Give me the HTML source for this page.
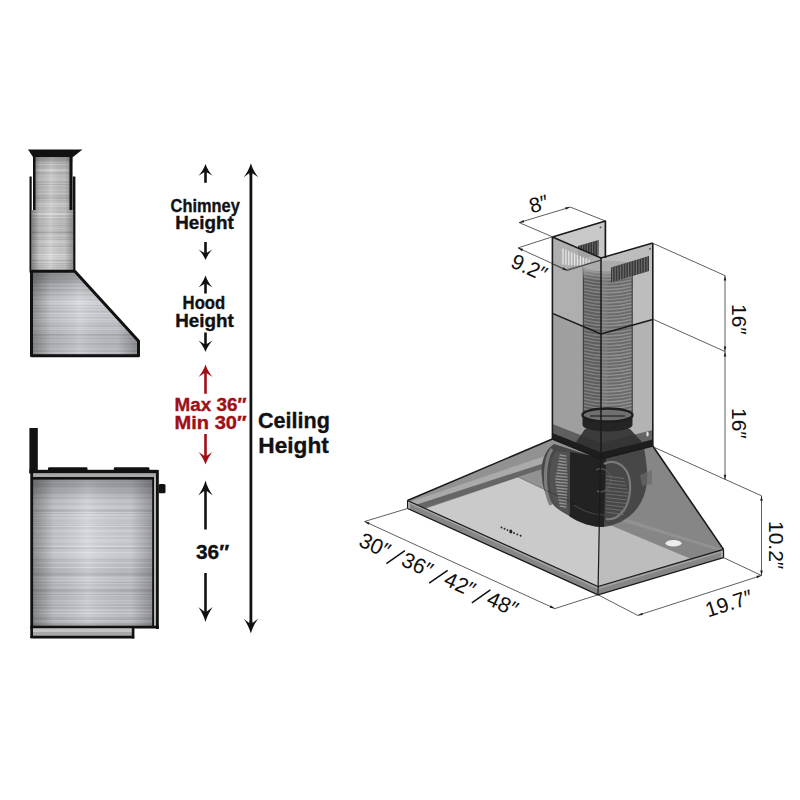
<!DOCTYPE html>
<html><head><meta charset="utf-8"><style>
html,body{margin:0;padding:0;background:#fff;}
svg{display:block;}
</style></head><body>
<svg width="800" height="800" viewBox="0 0 800 800">
<defs>
<linearGradient id="stA" x1="0" y1="0" x2="0" y2="1"><stop offset="0.00%" stop-color="rgb(200,200,200)"/>
<stop offset="0.91%" stop-color="rgb(197,197,197)"/>
<stop offset="1.82%" stop-color="rgb(191,191,191)"/>
<stop offset="2.73%" stop-color="rgb(195,195,195)"/>
<stop offset="3.64%" stop-color="rgb(192,192,192)"/>
<stop offset="4.55%" stop-color="rgb(195,195,195)"/>
<stop offset="5.45%" stop-color="rgb(218,218,218)"/>
<stop offset="6.36%" stop-color="rgb(198,198,198)"/>
<stop offset="7.27%" stop-color="rgb(220,220,220)"/>
<stop offset="8.18%" stop-color="rgb(202,202,202)"/>
<stop offset="9.09%" stop-color="rgb(189,189,189)"/>
<stop offset="10.00%" stop-color="rgb(196,196,196)"/>
<stop offset="10.91%" stop-color="rgb(190,190,190)"/>
<stop offset="11.82%" stop-color="rgb(212,212,212)"/>
<stop offset="12.73%" stop-color="rgb(203,203,203)"/>
<stop offset="13.64%" stop-color="rgb(196,196,196)"/>
<stop offset="14.55%" stop-color="rgb(170,170,170)"/>
<stop offset="15.45%" stop-color="rgb(188,188,188)"/>
<stop offset="16.36%" stop-color="rgb(195,195,195)"/>
<stop offset="17.27%" stop-color="rgb(199,199,199)"/>
<stop offset="18.18%" stop-color="rgb(189,189,189)"/>
<stop offset="19.09%" stop-color="rgb(201,201,201)"/>
<stop offset="20.00%" stop-color="rgb(196,196,196)"/>
<stop offset="20.91%" stop-color="rgb(205,205,205)"/>
<stop offset="21.82%" stop-color="rgb(186,186,186)"/>
<stop offset="22.73%" stop-color="rgb(180,180,180)"/>
<stop offset="23.64%" stop-color="rgb(200,200,200)"/>
<stop offset="24.55%" stop-color="rgb(176,176,176)"/>
<stop offset="25.45%" stop-color="rgb(196,196,196)"/>
<stop offset="26.36%" stop-color="rgb(193,193,193)"/>
<stop offset="27.27%" stop-color="rgb(184,184,184)"/>
<stop offset="28.18%" stop-color="rgb(193,193,193)"/>
<stop offset="29.09%" stop-color="rgb(188,188,188)"/>
<stop offset="30.00%" stop-color="rgb(204,204,204)"/>
<stop offset="30.91%" stop-color="rgb(180,180,180)"/>
<stop offset="31.82%" stop-color="rgb(196,196,196)"/>
<stop offset="32.73%" stop-color="rgb(206,206,206)"/>
<stop offset="33.64%" stop-color="rgb(183,183,183)"/>
<stop offset="34.55%" stop-color="rgb(181,181,181)"/>
<stop offset="35.45%" stop-color="rgb(190,190,190)"/>
<stop offset="36.36%" stop-color="rgb(164,164,164)"/>
<stop offset="37.27%" stop-color="rgb(201,201,201)"/>
<stop offset="38.18%" stop-color="rgb(185,185,185)"/>
<stop offset="39.09%" stop-color="rgb(191,191,191)"/>
<stop offset="40.00%" stop-color="rgb(193,193,193)"/>
<stop offset="40.91%" stop-color="rgb(207,207,207)"/>
<stop offset="41.82%" stop-color="rgb(208,208,208)"/>
<stop offset="42.73%" stop-color="rgb(194,194,194)"/>
<stop offset="43.64%" stop-color="rgb(210,210,210)"/>
<stop offset="44.55%" stop-color="rgb(187,187,187)"/>
<stop offset="45.45%" stop-color="rgb(191,191,191)"/>
<stop offset="46.36%" stop-color="rgb(200,200,200)"/>
<stop offset="47.27%" stop-color="rgb(178,178,178)"/>
<stop offset="48.18%" stop-color="rgb(199,199,199)"/>
<stop offset="49.09%" stop-color="rgb(205,205,205)"/>
<stop offset="50.00%" stop-color="rgb(210,210,210)"/>
<stop offset="50.91%" stop-color="rgb(208,208,208)"/>
<stop offset="51.82%" stop-color="rgb(191,191,191)"/>
<stop offset="52.73%" stop-color="rgb(215,215,215)"/>
<stop offset="53.64%" stop-color="rgb(217,217,217)"/>
<stop offset="54.55%" stop-color="rgb(190,190,190)"/>
<stop offset="55.45%" stop-color="rgb(198,198,198)"/>
<stop offset="56.36%" stop-color="rgb(195,195,195)"/>
<stop offset="57.27%" stop-color="rgb(199,199,199)"/>
<stop offset="58.18%" stop-color="rgb(181,181,181)"/>
<stop offset="59.09%" stop-color="rgb(185,185,185)"/>
<stop offset="60.00%" stop-color="rgb(192,192,192)"/>
<stop offset="60.91%" stop-color="rgb(224,224,224)"/>
<stop offset="61.82%" stop-color="rgb(200,200,200)"/>
<stop offset="62.73%" stop-color="rgb(207,207,207)"/>
<stop offset="63.64%" stop-color="rgb(200,200,200)"/>
<stop offset="64.55%" stop-color="rgb(228,228,228)"/>
<stop offset="65.45%" stop-color="rgb(197,197,197)"/>
<stop offset="66.36%" stop-color="rgb(199,199,199)"/>
<stop offset="67.27%" stop-color="rgb(204,204,204)"/>
<stop offset="68.18%" stop-color="rgb(186,186,186)"/>
<stop offset="69.09%" stop-color="rgb(226,226,226)"/>
<stop offset="70.00%" stop-color="rgb(199,199,199)"/>
<stop offset="70.91%" stop-color="rgb(195,195,195)"/>
<stop offset="71.82%" stop-color="rgb(226,226,226)"/>
<stop offset="72.73%" stop-color="rgb(216,216,216)"/>
<stop offset="73.64%" stop-color="rgb(204,204,204)"/>
<stop offset="74.55%" stop-color="rgb(217,217,217)"/>
<stop offset="75.45%" stop-color="rgb(216,216,216)"/>
<stop offset="76.36%" stop-color="rgb(198,198,198)"/>
<stop offset="77.27%" stop-color="rgb(222,222,222)"/>
<stop offset="78.18%" stop-color="rgb(215,215,215)"/>
<stop offset="79.09%" stop-color="rgb(212,212,212)"/>
<stop offset="80.00%" stop-color="rgb(204,204,204)"/>
<stop offset="80.91%" stop-color="rgb(172,172,172)"/>
<stop offset="81.82%" stop-color="rgb(194,194,194)"/>
<stop offset="82.73%" stop-color="rgb(207,207,207)"/>
<stop offset="83.64%" stop-color="rgb(198,198,198)"/>
<stop offset="84.55%" stop-color="rgb(214,214,214)"/>
<stop offset="85.45%" stop-color="rgb(193,193,193)"/>
<stop offset="86.36%" stop-color="rgb(188,188,188)"/>
<stop offset="87.27%" stop-color="rgb(186,186,186)"/>
<stop offset="88.18%" stop-color="rgb(208,208,208)"/>
<stop offset="89.09%" stop-color="rgb(194,194,194)"/>
<stop offset="90.00%" stop-color="rgb(188,188,188)"/>
<stop offset="90.91%" stop-color="rgb(198,198,198)"/>
<stop offset="91.82%" stop-color="rgb(202,202,202)"/>
<stop offset="92.73%" stop-color="rgb(191,191,191)"/>
<stop offset="93.64%" stop-color="rgb(201,201,201)"/>
<stop offset="94.55%" stop-color="rgb(201,201,201)"/>
<stop offset="95.45%" stop-color="rgb(187,187,187)"/>
<stop offset="96.36%" stop-color="rgb(205,205,205)"/>
<stop offset="97.27%" stop-color="rgb(179,179,179)"/>
<stop offset="98.18%" stop-color="rgb(179,179,179)"/>
<stop offset="99.09%" stop-color="rgb(200,200,200)"/>
<stop offset="100.00%" stop-color="rgb(200,200,200)"/></linearGradient>
<linearGradient id="stB" x1="0" y1="0" x2="0" y2="1"><stop offset="0.00%" stop-color="rgb(188,191,196)"/>
<stop offset="0.62%" stop-color="rgb(165,168,173)"/>
<stop offset="1.25%" stop-color="rgb(207,210,215)"/>
<stop offset="1.88%" stop-color="rgb(193,196,201)"/>
<stop offset="2.50%" stop-color="rgb(189,192,197)"/>
<stop offset="3.12%" stop-color="rgb(202,205,210)"/>
<stop offset="3.75%" stop-color="rgb(183,186,191)"/>
<stop offset="4.38%" stop-color="rgb(183,186,191)"/>
<stop offset="5.00%" stop-color="rgb(183,186,191)"/>
<stop offset="5.62%" stop-color="rgb(179,182,187)"/>
<stop offset="6.25%" stop-color="rgb(186,189,194)"/>
<stop offset="6.88%" stop-color="rgb(193,196,201)"/>
<stop offset="7.50%" stop-color="rgb(188,191,196)"/>
<stop offset="8.12%" stop-color="rgb(191,194,199)"/>
<stop offset="8.75%" stop-color="rgb(177,180,185)"/>
<stop offset="9.38%" stop-color="rgb(189,192,197)"/>
<stop offset="10.00%" stop-color="rgb(175,178,183)"/>
<stop offset="10.62%" stop-color="rgb(181,184,189)"/>
<stop offset="11.25%" stop-color="rgb(199,202,207)"/>
<stop offset="11.88%" stop-color="rgb(186,189,194)"/>
<stop offset="12.50%" stop-color="rgb(194,197,202)"/>
<stop offset="13.12%" stop-color="rgb(180,183,188)"/>
<stop offset="13.75%" stop-color="rgb(185,188,193)"/>
<stop offset="14.37%" stop-color="rgb(202,205,210)"/>
<stop offset="15.00%" stop-color="rgb(196,199,204)"/>
<stop offset="15.62%" stop-color="rgb(208,211,216)"/>
<stop offset="16.25%" stop-color="rgb(198,201,206)"/>
<stop offset="16.88%" stop-color="rgb(196,199,204)"/>
<stop offset="17.50%" stop-color="rgb(194,197,202)"/>
<stop offset="18.12%" stop-color="rgb(196,199,204)"/>
<stop offset="18.75%" stop-color="rgb(203,206,211)"/>
<stop offset="19.38%" stop-color="rgb(212,215,220)"/>
<stop offset="20.00%" stop-color="rgb(200,203,208)"/>
<stop offset="20.62%" stop-color="rgb(210,213,218)"/>
<stop offset="21.25%" stop-color="rgb(187,190,195)"/>
<stop offset="21.88%" stop-color="rgb(186,189,194)"/>
<stop offset="22.50%" stop-color="rgb(187,190,195)"/>
<stop offset="23.12%" stop-color="rgb(210,213,218)"/>
<stop offset="23.75%" stop-color="rgb(191,194,199)"/>
<stop offset="24.38%" stop-color="rgb(208,211,216)"/>
<stop offset="25.00%" stop-color="rgb(216,219,224)"/>
<stop offset="25.62%" stop-color="rgb(195,198,203)"/>
<stop offset="26.25%" stop-color="rgb(201,204,209)"/>
<stop offset="26.88%" stop-color="rgb(221,224,229)"/>
<stop offset="27.50%" stop-color="rgb(195,198,203)"/>
<stop offset="28.12%" stop-color="rgb(207,210,215)"/>
<stop offset="28.75%" stop-color="rgb(197,200,205)"/>
<stop offset="29.38%" stop-color="rgb(199,202,207)"/>
<stop offset="30.00%" stop-color="rgb(210,213,218)"/>
<stop offset="30.63%" stop-color="rgb(193,196,201)"/>
<stop offset="31.25%" stop-color="rgb(213,216,221)"/>
<stop offset="31.87%" stop-color="rgb(195,198,203)"/>
<stop offset="32.50%" stop-color="rgb(219,222,227)"/>
<stop offset="33.12%" stop-color="rgb(197,200,205)"/>
<stop offset="33.75%" stop-color="rgb(196,199,204)"/>
<stop offset="34.38%" stop-color="rgb(204,207,212)"/>
<stop offset="35.00%" stop-color="rgb(209,212,217)"/>
<stop offset="35.62%" stop-color="rgb(222,225,230)"/>
<stop offset="36.25%" stop-color="rgb(201,204,209)"/>
<stop offset="36.88%" stop-color="rgb(215,218,223)"/>
<stop offset="37.50%" stop-color="rgb(184,187,192)"/>
<stop offset="38.12%" stop-color="rgb(219,222,227)"/>
<stop offset="38.75%" stop-color="rgb(199,202,207)"/>
<stop offset="39.38%" stop-color="rgb(217,220,225)"/>
<stop offset="40.00%" stop-color="rgb(200,203,208)"/>
<stop offset="40.62%" stop-color="rgb(199,202,207)"/>
<stop offset="41.25%" stop-color="rgb(212,215,220)"/>
<stop offset="41.88%" stop-color="rgb(215,218,223)"/>
<stop offset="42.50%" stop-color="rgb(206,209,214)"/>
<stop offset="43.12%" stop-color="rgb(214,217,222)"/>
<stop offset="43.75%" stop-color="rgb(200,203,208)"/>
<stop offset="44.38%" stop-color="rgb(198,201,206)"/>
<stop offset="45.00%" stop-color="rgb(207,210,215)"/>
<stop offset="45.62%" stop-color="rgb(221,224,229)"/>
<stop offset="46.25%" stop-color="rgb(212,215,220)"/>
<stop offset="46.88%" stop-color="rgb(192,195,200)"/>
<stop offset="47.50%" stop-color="rgb(188,191,196)"/>
<stop offset="48.12%" stop-color="rgb(219,222,227)"/>
<stop offset="48.75%" stop-color="rgb(201,204,209)"/>
<stop offset="49.38%" stop-color="rgb(210,213,218)"/>
<stop offset="50.00%" stop-color="rgb(220,223,228)"/>
<stop offset="50.62%" stop-color="rgb(209,212,217)"/>
<stop offset="51.25%" stop-color="rgb(206,209,214)"/>
<stop offset="51.88%" stop-color="rgb(215,218,223)"/>
<stop offset="52.50%" stop-color="rgb(203,206,211)"/>
<stop offset="53.12%" stop-color="rgb(214,217,222)"/>
<stop offset="53.75%" stop-color="rgb(204,207,212)"/>
<stop offset="54.37%" stop-color="rgb(192,195,200)"/>
<stop offset="55.00%" stop-color="rgb(192,195,200)"/>
<stop offset="55.62%" stop-color="rgb(197,200,205)"/>
<stop offset="56.25%" stop-color="rgb(191,194,199)"/>
<stop offset="56.88%" stop-color="rgb(216,219,224)"/>
<stop offset="57.50%" stop-color="rgb(196,199,204)"/>
<stop offset="58.13%" stop-color="rgb(196,199,204)"/>
<stop offset="58.75%" stop-color="rgb(191,194,199)"/>
<stop offset="59.38%" stop-color="rgb(194,197,202)"/>
<stop offset="60.00%" stop-color="rgb(216,219,224)"/>
<stop offset="60.62%" stop-color="rgb(192,195,200)"/>
<stop offset="61.25%" stop-color="rgb(193,196,201)"/>
<stop offset="61.88%" stop-color="rgb(183,186,191)"/>
<stop offset="62.50%" stop-color="rgb(198,201,206)"/>
<stop offset="63.12%" stop-color="rgb(188,191,196)"/>
<stop offset="63.75%" stop-color="rgb(181,184,189)"/>
<stop offset="64.38%" stop-color="rgb(183,186,191)"/>
<stop offset="65.00%" stop-color="rgb(166,169,174)"/>
<stop offset="65.62%" stop-color="rgb(189,192,197)"/>
<stop offset="66.25%" stop-color="rgb(198,201,206)"/>
<stop offset="66.88%" stop-color="rgb(203,206,211)"/>
<stop offset="67.50%" stop-color="rgb(201,204,209)"/>
<stop offset="68.12%" stop-color="rgb(190,193,198)"/>
<stop offset="68.75%" stop-color="rgb(209,212,217)"/>
<stop offset="69.38%" stop-color="rgb(200,203,208)"/>
<stop offset="70.00%" stop-color="rgb(178,181,186)"/>
<stop offset="70.62%" stop-color="rgb(205,208,213)"/>
<stop offset="71.25%" stop-color="rgb(199,202,207)"/>
<stop offset="71.88%" stop-color="rgb(180,183,188)"/>
<stop offset="72.50%" stop-color="rgb(192,195,200)"/>
<stop offset="73.12%" stop-color="rgb(201,204,209)"/>
<stop offset="73.75%" stop-color="rgb(194,197,202)"/>
<stop offset="74.38%" stop-color="rgb(197,200,205)"/>
<stop offset="75.00%" stop-color="rgb(167,170,175)"/>
<stop offset="75.62%" stop-color="rgb(179,182,187)"/>
<stop offset="76.25%" stop-color="rgb(178,181,186)"/>
<stop offset="76.88%" stop-color="rgb(193,196,201)"/>
<stop offset="77.50%" stop-color="rgb(195,198,203)"/>
<stop offset="78.12%" stop-color="rgb(176,179,184)"/>
<stop offset="78.75%" stop-color="rgb(201,204,209)"/>
<stop offset="79.38%" stop-color="rgb(191,194,199)"/>
<stop offset="80.00%" stop-color="rgb(182,185,190)"/>
<stop offset="80.62%" stop-color="rgb(199,202,207)"/>
<stop offset="81.25%" stop-color="rgb(178,181,186)"/>
<stop offset="81.88%" stop-color="rgb(200,203,208)"/>
<stop offset="82.50%" stop-color="rgb(200,203,208)"/>
<stop offset="83.12%" stop-color="rgb(193,196,201)"/>
<stop offset="83.75%" stop-color="rgb(192,195,200)"/>
<stop offset="84.38%" stop-color="rgb(202,205,210)"/>
<stop offset="85.00%" stop-color="rgb(184,187,192)"/>
<stop offset="85.62%" stop-color="rgb(183,186,191)"/>
<stop offset="86.25%" stop-color="rgb(203,206,211)"/>
<stop offset="86.88%" stop-color="rgb(183,186,191)"/>
<stop offset="87.50%" stop-color="rgb(182,185,190)"/>
<stop offset="88.12%" stop-color="rgb(202,205,210)"/>
<stop offset="88.75%" stop-color="rgb(203,206,211)"/>
<stop offset="89.38%" stop-color="rgb(198,201,206)"/>
<stop offset="90.00%" stop-color="rgb(182,185,190)"/>
<stop offset="90.62%" stop-color="rgb(212,215,220)"/>
<stop offset="91.25%" stop-color="rgb(215,218,223)"/>
<stop offset="91.88%" stop-color="rgb(184,187,192)"/>
<stop offset="92.50%" stop-color="rgb(211,214,219)"/>
<stop offset="93.12%" stop-color="rgb(200,203,208)"/>
<stop offset="93.75%" stop-color="rgb(193,196,201)"/>
<stop offset="94.38%" stop-color="rgb(193,196,201)"/>
<stop offset="95.00%" stop-color="rgb(192,195,200)"/>
<stop offset="95.62%" stop-color="rgb(219,222,227)"/>
<stop offset="96.25%" stop-color="rgb(215,218,223)"/>
<stop offset="96.88%" stop-color="rgb(218,221,226)"/>
<stop offset="97.50%" stop-color="rgb(197,200,205)"/>
<stop offset="98.12%" stop-color="rgb(191,194,199)"/>
<stop offset="98.75%" stop-color="rgb(191,194,199)"/>
<stop offset="99.38%" stop-color="rgb(206,209,214)"/>
<stop offset="100.00%" stop-color="rgb(196,199,204)"/></linearGradient>
<linearGradient id="vigH" x1="0" y1="0" x2="0" y2="1"><stop offset="0" stop-color="#000" stop-opacity="0.22"/><stop offset="0.35" stop-color="#000" stop-opacity="0"/><stop offset="0.6" stop-color="#fff" stop-opacity="0.12"/><stop offset="1" stop-color="#000" stop-opacity="0.06"/></linearGradient>
<linearGradient id="stC" x1="0" y1="0" x2="0" y2="1"><stop offset="0.00%" stop-color="rgb(203,203,203)"/>
<stop offset="3.33%" stop-color="rgb(215,215,215)"/>
<stop offset="6.67%" stop-color="rgb(187,187,187)"/>
<stop offset="10.00%" stop-color="rgb(207,207,207)"/>
<stop offset="13.33%" stop-color="rgb(186,186,186)"/>
<stop offset="16.67%" stop-color="rgb(186,186,186)"/>
<stop offset="20.00%" stop-color="rgb(190,190,190)"/>
<stop offset="23.33%" stop-color="rgb(181,181,181)"/>
<stop offset="26.67%" stop-color="rgb(147,147,147)"/>
<stop offset="30.00%" stop-color="rgb(195,195,195)"/>
<stop offset="33.33%" stop-color="rgb(199,199,199)"/>
<stop offset="36.67%" stop-color="rgb(175,175,175)"/>
<stop offset="40.00%" stop-color="rgb(174,174,174)"/>
<stop offset="43.33%" stop-color="rgb(208,208,208)"/>
<stop offset="46.67%" stop-color="rgb(206,206,206)"/>
<stop offset="50.00%" stop-color="rgb(214,214,214)"/>
<stop offset="53.33%" stop-color="rgb(203,203,203)"/>
<stop offset="56.67%" stop-color="rgb(187,187,187)"/>
<stop offset="60.00%" stop-color="rgb(205,205,205)"/>
<stop offset="63.33%" stop-color="rgb(214,214,214)"/>
<stop offset="66.67%" stop-color="rgb(191,191,191)"/>
<stop offset="70.00%" stop-color="rgb(193,193,193)"/>
<stop offset="73.33%" stop-color="rgb(199,199,199)"/>
<stop offset="76.67%" stop-color="rgb(211,211,211)"/>
<stop offset="80.00%" stop-color="rgb(189,189,189)"/>
<stop offset="83.33%" stop-color="rgb(186,186,186)"/>
<stop offset="86.67%" stop-color="rgb(186,186,186)"/>
<stop offset="90.00%" stop-color="rgb(174,174,174)"/>
<stop offset="93.33%" stop-color="rgb(200,200,200)"/>
<stop offset="96.67%" stop-color="rgb(171,171,171)"/>
<stop offset="100.00%" stop-color="rgb(201,201,201)"/></linearGradient>
<linearGradient id="vig" x1="0" y1="0" x2="1" y2="0">
 <stop offset="0" stop-color="#000" stop-opacity="0.35"/>
 <stop offset="0.18" stop-color="#000" stop-opacity="0.08"/>
 <stop offset="0.45" stop-color="#fff" stop-opacity="0.12"/>
 <stop offset="0.8" stop-color="#000" stop-opacity="0.05"/>
 <stop offset="1" stop-color="#000" stop-opacity="0.3"/>
</linearGradient>
<linearGradient id="ductTop" x1="0" y1="0" x2="0" y2="1"><stop offset="0" stop-color="#b0b0b0" stop-opacity="0.9"/><stop offset="1" stop-color="#b0b0b0" stop-opacity="0"/></linearGradient>
<linearGradient id="vigv" x1="0" y1="0" x2="0" y2="1">
 <stop offset="0" stop-color="#000" stop-opacity="0.25"/>
 <stop offset="0.12" stop-color="#000" stop-opacity="0"/>
 <stop offset="0.9" stop-color="#000" stop-opacity="0"/>
 <stop offset="1" stop-color="#000" stop-opacity="0.15"/>
</linearGradient>
</defs>
<rect width="800" height="800" fill="#fff"/>
<g>
<rect x="33" y="156" width="40" height="116" fill="url(#stA)"/>
<rect x="33" y="156" width="40" height="116" fill="url(#vig)"/>
<rect x="33" y="156" width="40" height="116" fill="url(#vigv)"/>
<rect x="29.5" y="176.5" width="2.2" height="96" fill="#111"/>
<rect x="72.8" y="176.5" width="2.6" height="96" fill="#111"/>
<rect x="31.7" y="210" width="41.5" height="62" fill="url(#stA)"/>
<rect x="31.7" y="210" width="41.5" height="62" fill="url(#vig)"/>
<rect x="33" y="157" width="2.5" height="53" fill="#111"/>
<rect x="69.5" y="157" width="2.6" height="53" fill="#111"/>
<path d="M28,149.5 L82.5,149.5 L73,157 L33,157 Z" fill="#111"/>
<path d="M31.5,271.3 L74.8,271.3 L138.5,341 L138.5,355.7 L31.5,355.7 Z" fill="url(#stB)"/>
<path d="M31.5,271.3 L74.8,271.3 L138.5,341 L138.5,355.7 L31.5,355.7 Z" fill="url(#vig)"/>
<path d="M31.5,271.3 L74.8,271.3 L138.5,341 L138.5,355.7 L31.5,355.7 Z" fill="url(#vigH)"/>
<path d="M31.5,271.3 L74.8,271.3 L138.5,341 L138.5,355.7 L31.5,355.7 Z" fill="none" stroke="#111" stroke-width="3" stroke-linejoin="round"/>
</g>
<g>
<rect x="31.5" y="478" width="124" height="149" fill="url(#stB)"/>
<rect x="31.5" y="478" width="124" height="149" fill="url(#vig)"/>
<rect x="31.5" y="478" width="124" height="149" fill="url(#vigv)"/>
<rect x="29.4" y="428" width="8.4" height="45" fill="#111"/>
<rect x="48" y="467.3" width="39.5" height="4" rx="1.2" fill="#111"/>
<rect x="113.8" y="467.3" width="35.6" height="4" rx="1.2" fill="#111"/>
<rect x="29.4" y="469.8" width="128.5" height="3.8" fill="#111"/>
<rect x="32" y="473.4" width="124" height="3.8" fill="#a9a9a9"/>
<rect x="31" y="477" width="126" height="2.6" fill="#111"/>
<rect x="30.3" y="470" width="2.8" height="168" fill="#111"/>
<rect x="152.2" y="477" width="1.9" height="150" fill="#111"/>
<rect x="154" y="477" width="2" height="150" fill="#b4b4b4"/>
<rect x="156" y="470" width="2.8" height="159" fill="#111"/>
<rect x="30.3" y="625.7" width="128.5" height="2.8" fill="#111"/>
<rect x="33" y="628.5" width="99.5" height="7.5" fill="#a8a8a8"/>
<rect x="33" y="629" width="99.5" height="3" fill="#c4c4c4"/>
<rect x="30.3" y="635.8" width="104" height="2.8" rx="1" fill="#111"/>
<rect x="131.8" y="628" width="2.6" height="10.5" fill="#111"/>
<rect x="158.5" y="484" width="7" height="9.3" rx="1.5" fill="#111"/>
</g>
<path d="M205.50,164.10 C207.10,168.78 210.05,173.23 212.50,175.80 L206.80,172.29 L206.80,182.80 L204.20,182.80 L204.20,172.29 L198.50,175.80 C200.95,173.23 203.90,168.78 205.50,164.10 Z" fill="#111"/>
<path d="M205.50,260.00 C207.10,255.80 210.05,251.81 212.50,249.50 L206.80,252.65 L206.80,242.00 L204.20,242.00 L204.20,252.65 L198.50,249.50 C200.95,251.81 203.90,255.80 205.50,260.00 Z" fill="#111"/>
<path d="M205.50,275.50 C207.10,280.30 210.05,284.86 212.50,287.50 L206.80,283.90 L206.80,293.50 L204.20,293.50 L204.20,283.90 L198.50,287.50 C200.95,284.86 203.90,280.30 205.50,275.50 Z" fill="#111"/>
<path d="M205.50,352.00 C207.10,347.40 210.05,343.03 212.50,340.50 L206.80,343.95 L206.80,332.50 L204.20,332.50 L204.20,343.95 L198.50,340.50 C200.95,343.03 203.90,347.40 205.50,352.00 Z" fill="#111"/>
<path d="M205.50,364.50 C207.10,369.50 210.05,374.25 212.50,377.00 L206.80,373.25 L206.80,393.70 L204.20,393.70 L204.20,373.25 L198.50,377.00 C200.95,374.25 203.90,369.50 205.50,364.50 Z" fill="#9e0f17"/>
<path d="M205.50,464.60 C207.10,459.56 210.05,454.77 212.50,452.00 L206.80,455.78 L206.80,434.00 L204.20,434.00 L204.20,455.78 L198.50,452.00 C200.95,454.77 203.90,459.56 205.50,464.60 Z" fill="#9e0f17"/>
<path d="M205.50,480.60 C207.10,486.56 210.21,492.22 212.75,495.50 L206.80,491.03 L206.80,529.50 L204.20,529.50 L204.20,491.03 L198.25,495.50 C200.79,492.22 203.90,486.56 205.50,480.60 Z" fill="#111"/>
<path d="M205.50,622.00 C207.10,616.00 210.21,610.30 212.75,607.00 L206.80,611.50 L206.80,573.00 L204.20,573.00 L204.20,611.50 L198.25,607.00 C200.79,610.30 203.90,616.00 205.50,622.00 Z" fill="#111"/>
<path d="M250.90,163.20 C252.50,168.80 255.61,174.12 258.15,177.20 L252.30,173.00 L252.30,175.00 L249.50,175.00 L249.50,173.00 L243.65,177.20 C246.19,174.12 249.30,168.80 250.90,163.20 Z" fill="#111"/>
<path d="M250.90,633.60 C252.50,627.64 255.61,621.98 258.15,618.70 L252.30,623.17 L252.30,621.00 L249.50,621.00 L249.50,623.17 L243.65,618.70 C246.19,621.98 249.30,627.64 250.90,633.60 Z" fill="#111"/>
<rect x="249.5" y="172" width="2.8" height="452" fill="#111"/>
<text x="170.6" y="211.6" style="font-family:&quot;Liberation Sans&quot;,sans-serif;font-weight:bold;font-size:18px" fill="#111" stroke="#111" stroke-width="0.35" textLength="69.2" lengthAdjust="spacingAndGlyphs">Chimney</text>
<text x="175.2" y="228.8" style="font-family:&quot;Liberation Sans&quot;,sans-serif;font-weight:bold;font-size:18px" fill="#111" stroke="#111" stroke-width="0.35" textLength="58.6" lengthAdjust="spacingAndGlyphs">Height</text>
<text x="182.6" y="309.2" style="font-family:&quot;Liberation Sans&quot;,sans-serif;font-weight:bold;font-size:18px" fill="#111" stroke="#111" stroke-width="0.35" textLength="42.6" lengthAdjust="spacingAndGlyphs">Hood</text>
<text x="175.2" y="327.2" style="font-family:&quot;Liberation Sans&quot;,sans-serif;font-weight:bold;font-size:18px" fill="#111" stroke="#111" stroke-width="0.35" textLength="58.6" lengthAdjust="spacingAndGlyphs">Height</text>
<text x="174.6" y="410.6" style="font-family:&quot;Liberation Sans&quot;,sans-serif;font-weight:bold;font-size:18px" fill="#9e0f17" stroke="#9e0f17" stroke-width="0.35" textLength="72" lengthAdjust="spacingAndGlyphs">Max 36″</text>
<text x="174.6" y="428.6" style="font-family:&quot;Liberation Sans&quot;,sans-serif;font-weight:bold;font-size:18px" fill="#9e0f17" stroke="#9e0f17" stroke-width="0.35" textLength="72" lengthAdjust="spacingAndGlyphs">Min 30″</text>
<text x="258" y="427.6" style="font-family:&quot;Liberation Sans&quot;,sans-serif;font-weight:bold;font-size:22.8px" fill="#111" stroke="#111" stroke-width="0.35" textLength="72" lengthAdjust="spacingAndGlyphs">Ceiling</text>
<text x="258.3" y="453.4" style="font-family:&quot;Liberation Sans&quot;,sans-serif;font-weight:bold;font-size:22.8px" fill="#111" stroke="#111" stroke-width="0.35" textLength="70.5" lengthAdjust="spacingAndGlyphs">Height</text>
<text x="196" y="558.8" style="font-family:&quot;Liberation Sans&quot;,sans-serif;font-weight:bold;font-size:20.5px" fill="#111" stroke="#111" stroke-width="0.35" textLength="33.2" lengthAdjust="spacingAndGlyphs">36″</text>
<path d="M552.4,237 L605.4,221 L605.4,258 L601,258 Z" fill="#c8c8c8"/>
<path d="M578,246 L598.6,240 L598.6,255.5 L578,259 Z" fill="#353535"/>
<line x1="580.0" y1="245.5" x2="580.0" y2="258.6" stroke="#8a8a8a" stroke-width="0.6"/>
<line x1="582.5" y1="244.8" x2="582.5" y2="258.2" stroke="#8a8a8a" stroke-width="0.6"/>
<line x1="585.0" y1="244.1" x2="585.0" y2="257.7" stroke="#8a8a8a" stroke-width="0.6"/>
<line x1="587.5" y1="243.3" x2="587.5" y2="257.2" stroke="#8a8a8a" stroke-width="0.6"/>
<line x1="590.0" y1="242.6" x2="590.0" y2="256.8" stroke="#8a8a8a" stroke-width="0.6"/>
<line x1="592.5" y1="241.9" x2="592.5" y2="256.4" stroke="#8a8a8a" stroke-width="0.6"/>
<line x1="595.0" y1="241.2" x2="595.0" y2="255.9" stroke="#8a8a8a" stroke-width="0.6"/>
<line x1="597.5" y1="240.5" x2="597.5" y2="255.5" stroke="#8a8a8a" stroke-width="0.6"/>
<path d="M552.4,237 L601,258 L601,334 L552.4,313.4 Z" fill="#a9a9a9" fill-opacity="0.93"/>
<line x1="563.0" y1="248.5" x2="563.0" y2="264.5" stroke="#e6e6e6" stroke-width="1.3"/>
<line x1="565.9" y1="249.8" x2="565.9" y2="264.7" stroke="#e6e6e6" stroke-width="1.3"/>
<line x1="568.8" y1="251.0" x2="568.8" y2="264.9" stroke="#e6e6e6" stroke-width="1.3"/>
<line x1="571.7" y1="252.2" x2="571.7" y2="265.1" stroke="#e6e6e6" stroke-width="1.3"/>
<line x1="574.6" y1="253.5" x2="574.6" y2="265.3" stroke="#e6e6e6" stroke-width="1.3"/>
<line x1="577.5" y1="254.8" x2="577.5" y2="265.5" stroke="#e6e6e6" stroke-width="1.3"/>
<line x1="580.4" y1="256.0" x2="580.4" y2="265.7" stroke="#e6e6e6" stroke-width="1.3"/>
<line x1="583.3" y1="257.2" x2="583.3" y2="265.9" stroke="#e6e6e6" stroke-width="1.3"/>
<line x1="586.2" y1="258.5" x2="586.2" y2="266.1" stroke="#e6e6e6" stroke-width="1.3"/>
<line x1="589.1" y1="259.8" x2="589.1" y2="266.3" stroke="#e6e6e6" stroke-width="1.3"/>
<path d="M601,258.5 L652.8,243 L652.8,319.5 L601,334 Z" fill="#bdbdbd"/>
<path d="M552.4,313.4 L601,334 L601,459 L552.4,439 Z" fill="#9f9f9f"/>
<path d="M601,334 L652.8,319.5 L652.8,446 L601,459 Z" fill="#b3b3b3"/>
<path d="M583,266 L583,418 L632.5,418 L632.5,266 Z" fill="#626262" fill-opacity="0.9"/>
<path d="M583,270.0 Q607.7,276.5 632.5,270.0" fill="none" stroke="#959595" stroke-width="1.4" opacity="0.9"/>
<path d="M583,273.3 Q607.7,279.8 632.5,273.3" fill="none" stroke="#959595" stroke-width="1.4" opacity="0.9"/>
<path d="M583,276.6 Q607.7,283.1 632.5,276.6" fill="none" stroke="#959595" stroke-width="1.4" opacity="0.9"/>
<path d="M583,279.9 Q607.7,286.4 632.5,279.9" fill="none" stroke="#959595" stroke-width="1.4" opacity="0.9"/>
<path d="M583,283.2 Q607.7,289.7 632.5,283.2" fill="none" stroke="#959595" stroke-width="1.4" opacity="0.9"/>
<path d="M583,286.5 Q607.7,293.0 632.5,286.5" fill="none" stroke="#959595" stroke-width="1.4" opacity="0.9"/>
<path d="M583,289.8 Q607.7,296.3 632.5,289.8" fill="none" stroke="#959595" stroke-width="1.4" opacity="0.9"/>
<path d="M583,293.1 Q607.7,299.6 632.5,293.1" fill="none" stroke="#959595" stroke-width="1.4" opacity="0.9"/>
<path d="M583,296.4 Q607.7,302.9 632.5,296.4" fill="none" stroke="#959595" stroke-width="1.4" opacity="0.9"/>
<path d="M583,299.7 Q607.7,306.2 632.5,299.7" fill="none" stroke="#959595" stroke-width="1.4" opacity="0.9"/>
<path d="M583,303.0 Q607.7,309.5 632.5,303.0" fill="none" stroke="#959595" stroke-width="1.4" opacity="0.9"/>
<path d="M583,306.3 Q607.7,312.8 632.5,306.3" fill="none" stroke="#959595" stroke-width="1.4" opacity="0.9"/>
<path d="M583,309.6 Q607.7,316.1 632.5,309.6" fill="none" stroke="#959595" stroke-width="1.4" opacity="0.9"/>
<path d="M583,312.9 Q607.7,319.4 632.5,312.9" fill="none" stroke="#959595" stroke-width="1.4" opacity="0.9"/>
<path d="M583,316.2 Q607.7,322.7 632.5,316.2" fill="none" stroke="#959595" stroke-width="1.4" opacity="0.9"/>
<path d="M583,319.5 Q607.7,326.0 632.5,319.5" fill="none" stroke="#959595" stroke-width="1.4" opacity="0.9"/>
<path d="M583,322.8 Q607.7,329.3 632.5,322.8" fill="none" stroke="#959595" stroke-width="1.4" opacity="0.9"/>
<path d="M583,326.1 Q607.7,332.6 632.5,326.1" fill="none" stroke="#959595" stroke-width="1.4" opacity="0.9"/>
<path d="M583,329.4 Q607.7,335.9 632.5,329.4" fill="none" stroke="#959595" stroke-width="1.4" opacity="0.9"/>
<path d="M583,332.7 Q607.7,339.2 632.5,332.7" fill="none" stroke="#959595" stroke-width="1.4" opacity="0.9"/>
<path d="M583,336.0 Q607.7,342.5 632.5,336.0" fill="none" stroke="#959595" stroke-width="1.4" opacity="0.9"/>
<path d="M583,339.3 Q607.7,345.8 632.5,339.3" fill="none" stroke="#959595" stroke-width="1.4" opacity="0.9"/>
<path d="M583,342.6 Q607.7,349.1 632.5,342.6" fill="none" stroke="#959595" stroke-width="1.4" opacity="0.9"/>
<path d="M583,345.9 Q607.7,352.4 632.5,345.9" fill="none" stroke="#959595" stroke-width="1.4" opacity="0.9"/>
<path d="M583,349.2 Q607.7,355.7 632.5,349.2" fill="none" stroke="#959595" stroke-width="1.4" opacity="0.9"/>
<path d="M583,352.5 Q607.7,359.0 632.5,352.5" fill="none" stroke="#959595" stroke-width="1.4" opacity="0.9"/>
<path d="M583,355.8 Q607.7,362.3 632.5,355.8" fill="none" stroke="#959595" stroke-width="1.4" opacity="0.9"/>
<path d="M583,359.1 Q607.7,365.6 632.5,359.1" fill="none" stroke="#959595" stroke-width="1.4" opacity="0.9"/>
<path d="M583,362.4 Q607.7,368.9 632.5,362.4" fill="none" stroke="#959595" stroke-width="1.4" opacity="0.9"/>
<path d="M583,365.7 Q607.7,372.2 632.5,365.7" fill="none" stroke="#959595" stroke-width="1.4" opacity="0.9"/>
<path d="M583,369.0 Q607.7,375.5 632.5,369.0" fill="none" stroke="#959595" stroke-width="1.4" opacity="0.9"/>
<path d="M583,372.3 Q607.7,378.8 632.5,372.3" fill="none" stroke="#959595" stroke-width="1.4" opacity="0.9"/>
<path d="M583,375.6 Q607.7,382.1 632.5,375.6" fill="none" stroke="#959595" stroke-width="1.4" opacity="0.9"/>
<path d="M583,378.9 Q607.7,385.4 632.5,378.9" fill="none" stroke="#959595" stroke-width="1.4" opacity="0.9"/>
<path d="M583,382.2 Q607.7,388.7 632.5,382.2" fill="none" stroke="#959595" stroke-width="1.4" opacity="0.9"/>
<path d="M583,385.5 Q607.7,392.0 632.5,385.5" fill="none" stroke="#959595" stroke-width="1.4" opacity="0.9"/>
<path d="M583,388.8 Q607.7,395.3 632.5,388.8" fill="none" stroke="#959595" stroke-width="1.4" opacity="0.9"/>
<path d="M583,392.1 Q607.7,398.6 632.5,392.1" fill="none" stroke="#959595" stroke-width="1.4" opacity="0.9"/>
<path d="M583,395.4 Q607.7,401.9 632.5,395.4" fill="none" stroke="#959595" stroke-width="1.4" opacity="0.9"/>
<path d="M583,398.7 Q607.7,405.2 632.5,398.7" fill="none" stroke="#959595" stroke-width="1.4" opacity="0.9"/>
<path d="M583,402.0 Q607.7,408.5 632.5,402.0" fill="none" stroke="#959595" stroke-width="1.4" opacity="0.9"/>
<path d="M583,405.3 Q607.7,411.8 632.5,405.3" fill="none" stroke="#959595" stroke-width="1.4" opacity="0.9"/>
<path d="M583,408.6 Q607.7,415.1 632.5,408.6" fill="none" stroke="#959595" stroke-width="1.4" opacity="0.9"/>
<path d="M583,411.9 Q607.7,418.4 632.5,411.9" fill="none" stroke="#959595" stroke-width="1.4" opacity="0.9"/>
<rect x="583" y="266" width="18" height="150" fill="#000" fill-opacity="0.1"/>
<rect x="601.5" y="266" width="6" height="150" fill="#8a8a8a" fill-opacity="0.35"/>
<line x1="583.3" y1="266" x2="583.3" y2="418" stroke="#3a3a3a" stroke-width="1"/>
<line x1="632.2" y1="266" x2="632.2" y2="418" stroke="#3a3a3a" stroke-width="1"/>
<rect x="583" y="266" width="49.5" height="14" fill="url(#ductTop)"/>
<ellipse cx="607.7" cy="266" rx="24.7" ry="5.5" fill="#ababab"/>
<path d="M611,267.5 L649,256 L649,271 L611,282.5 Z" fill="#3a3a3a"/>
<line x1="612.6" y1="267.2" x2="612.6" y2="282.2" stroke="#8a8a8a" stroke-width="0.7"/>
<line x1="615.2" y1="266.4" x2="615.2" y2="281.4" stroke="#8a8a8a" stroke-width="0.7"/>
<line x1="617.9" y1="265.6" x2="617.9" y2="280.6" stroke="#8a8a8a" stroke-width="0.7"/>
<line x1="620.6" y1="264.8" x2="620.6" y2="279.8" stroke="#8a8a8a" stroke-width="0.7"/>
<line x1="623.2" y1="264.0" x2="623.2" y2="279.0" stroke="#8a8a8a" stroke-width="0.7"/>
<line x1="625.9" y1="263.1" x2="625.9" y2="278.1" stroke="#8a8a8a" stroke-width="0.7"/>
<line x1="628.5" y1="262.3" x2="628.5" y2="277.3" stroke="#8a8a8a" stroke-width="0.7"/>
<line x1="631.1" y1="261.5" x2="631.1" y2="276.5" stroke="#8a8a8a" stroke-width="0.7"/>
<line x1="633.8" y1="260.7" x2="633.8" y2="275.7" stroke="#8a8a8a" stroke-width="0.7"/>
<line x1="636.5" y1="259.9" x2="636.5" y2="274.9" stroke="#8a8a8a" stroke-width="0.7"/>
<line x1="639.1" y1="259.1" x2="639.1" y2="274.1" stroke="#8a8a8a" stroke-width="0.7"/>
<line x1="641.8" y1="258.3" x2="641.8" y2="273.3" stroke="#8a8a8a" stroke-width="0.7"/>
<line x1="644.4" y1="257.5" x2="644.4" y2="272.5" stroke="#8a8a8a" stroke-width="0.7"/>
<line x1="647.1" y1="256.7" x2="647.1" y2="271.7" stroke="#8a8a8a" stroke-width="0.7"/>
<path d="M552.4,264 L565,270 L600,260.5" fill="none" stroke="#555" stroke-width="0.7"/>
<circle cx="600.5" cy="227.3" r="0.9" fill="#444"/>
<circle cx="650" cy="248.8" r="0.9" fill="#444"/>
<path d="M552.4,424 L601,443 L652.8,430 L652.8,446 L601,459 L552.4,439 Z" fill="#4a4a4a" fill-opacity="0.75"/>
<path d="M574,445 L585,429 L630,429 L642,442 L601,455 Z" fill="#303030" fill-opacity="0.9"/>
<ellipse cx="607.5" cy="415" rx="25" ry="6.5" fill="#707070"/>
<path d="M582.5,415 L582.5,425 A25,6.5 0 0 0 632.5,425 L632.5,415 A25,6.5 0 0 1 582.5,415 Z" fill="#242424"/>
<ellipse cx="607.5" cy="415" rx="25" ry="6.5" fill="none" stroke="#1e1e1e" stroke-width="2.4"/>
<path d="M590,416 L625,416" stroke="#333" stroke-width="1.5"/>
<ellipse cx="647.5" cy="434" rx="1.2" ry="2.6" fill="#e0e0e0"/>
<path d="M552.4,433 L601,452.5 L652.8,439.5 L652.8,446 L601,459 L552.4,439 Z" fill="#1e1e1e"/>
<path d="M407.5,500.5 L552.4,439 L600.5,459 L598,586.5 Z" fill="#929292"/>
<path d="M409.5,502 L548,455 L551,461 L414,505.5 Z" fill="#aaaaaa"/>
<path d="M414,505.5 L551,461 L553,465.5 L421,509 Z" fill="#666666"/>
<path d="M425,508.4 L518,477 L600,516 L598,586.5 Z" fill="#cacaca"/>
<path d="M600.5,459 L652.8,446 L723.5,549.4 L598,586.5 Z" fill="#868686"/>
<path d="M598,520 L690,558.5 L598,586.5 Z" fill="#bdbdbd"/>
<path d="M598,510 L723.5,549.4 L720,551 L598,514 Z" fill="#929292"/>
<path d="M554,444 C544,450 540,465 542,478 C543,495 552,508 570,516 C582,523 592,527 600,527 C615,527 632,518 640,504 C646,494 648,482 647,470 C646,460 645,452 644,448 L601,459 Z" fill="#424242" fill-opacity="0.92"/>
<path d="M570,452 C566,470 565,498 569,516 C579,523 592,527 604,527 L606,458 Z" fill="#222222"/>
<path d="M596,470 C603,466 611,472 611,480 C611,488 604,494 597,491" fill="none" stroke="#555" stroke-width="1.4"/>
<path d="M574,505 C585,512 595,515 604,515" fill="none" stroke="#444" stroke-width="1.2"/>
<path d="M556,451 C548,462 547,490 556,505 C561,510 566,513 570,515 L570,452 Z" fill="#555" fill-opacity="0.8"/>
<line x1="559.7" y1="455.0" x2="566.3" y2="456.2" stroke="#929292" stroke-width="1.3"/>
<line x1="559.1" y1="458.0" x2="566.5" y2="459.2" stroke="#929292" stroke-width="1.3"/>
<line x1="558.6" y1="461.0" x2="566.7" y2="462.2" stroke="#929292" stroke-width="1.3"/>
<line x1="558.0" y1="464.0" x2="566.9" y2="465.2" stroke="#929292" stroke-width="1.3"/>
<line x1="557.5" y1="467.0" x2="567.1" y2="468.2" stroke="#929292" stroke-width="1.3"/>
<line x1="556.9" y1="470.0" x2="567.3" y2="471.2" stroke="#929292" stroke-width="1.3"/>
<line x1="556.4" y1="473.0" x2="567.5" y2="474.2" stroke="#929292" stroke-width="1.3"/>
<line x1="555.8" y1="476.0" x2="567.7" y2="477.2" stroke="#929292" stroke-width="1.3"/>
<line x1="555.3" y1="479.0" x2="567.9" y2="480.2" stroke="#929292" stroke-width="1.3"/>
<line x1="555.3" y1="482.0" x2="567.9" y2="483.2" stroke="#929292" stroke-width="1.3"/>
<line x1="555.8" y1="485.0" x2="567.7" y2="486.2" stroke="#929292" stroke-width="1.3"/>
<line x1="556.4" y1="488.0" x2="567.5" y2="489.2" stroke="#929292" stroke-width="1.3"/>
<line x1="556.9" y1="491.0" x2="567.3" y2="492.2" stroke="#929292" stroke-width="1.3"/>
<line x1="557.5" y1="494.0" x2="567.1" y2="495.2" stroke="#929292" stroke-width="1.3"/>
<line x1="558.0" y1="497.0" x2="566.9" y2="498.2" stroke="#929292" stroke-width="1.3"/>
<line x1="558.6" y1="500.0" x2="566.7" y2="501.2" stroke="#929292" stroke-width="1.3"/>
<line x1="559.1" y1="503.0" x2="566.5" y2="504.2" stroke="#929292" stroke-width="1.3"/>
<line x1="559.7" y1="506.0" x2="566.3" y2="507.2" stroke="#929292" stroke-width="1.3"/>
<path d="M552,449 C544,460 543,490 551,505" fill="none" stroke="#7c7c7c" stroke-width="3.2"/>
<path d="M604,464 C612,459 622,463 627,472 C632,482 631,500 624,510 C619,517 612,520 606,519" fill="none" stroke="#7a7a7a" stroke-width="2.2"/>
<line x1="606" y1="476.0" x2="624.0" y2="478.5" stroke="#707070" stroke-width="0.9"/>
<line x1="606" y1="479.6" x2="625.2" y2="482.1" stroke="#707070" stroke-width="0.9"/>
<line x1="606" y1="483.2" x2="626.4" y2="485.7" stroke="#707070" stroke-width="0.9"/>
<line x1="606" y1="486.8" x2="627.6" y2="489.3" stroke="#707070" stroke-width="0.9"/>
<line x1="606" y1="490.4" x2="628.8" y2="492.9" stroke="#707070" stroke-width="0.9"/>
<line x1="606" y1="494.0" x2="630.0" y2="496.5" stroke="#707070" stroke-width="0.9"/>
<line x1="606" y1="497.6" x2="628.8" y2="500.1" stroke="#707070" stroke-width="0.9"/>
<line x1="606" y1="501.2" x2="627.6" y2="503.7" stroke="#707070" stroke-width="0.9"/>
<line x1="606" y1="504.8" x2="626.4" y2="507.3" stroke="#707070" stroke-width="0.9"/>
<line x1="606" y1="508.4" x2="625.2" y2="510.9" stroke="#707070" stroke-width="0.9"/>
<line x1="606" y1="512.0" x2="624.0" y2="514.5" stroke="#707070" stroke-width="0.9"/>
<path d="M640,475 L652,470 L652,484 L642,486 Z" fill="#6a6a6a" fill-opacity="0.7"/>
<circle cx="501.5" cy="527.5" r="0.95" fill="#222"/>
<circle cx="504.5" cy="528.8" r="0.95" fill="#222"/>
<circle cx="507.5" cy="530.1" r="0.95" fill="#222"/>
<circle cx="514" cy="533" r="0.95" fill="#222"/>
<circle cx="517.3" cy="534.4" r="0.95" fill="#222"/>
<circle cx="520.6" cy="535.8" r="0.95" fill="#222"/>
<ellipse cx="510.8" cy="531.6" rx="1.5" ry="2" fill="#222"/>
<ellipse cx="673.5" cy="543.3" rx="8" ry="3.2" fill="#ececec"/>
<path d="M407.5,500.5 L598,586.5 L723.5,549.4 L723.5,557.6 L598,594.8 L407.5,508.5 Z" fill="#868686"/>
<path d="M408,502.3 L598,588.3 L723,551.3" fill="none" stroke="#a8a8a8" stroke-width="1.1"/>
<path d="M407.5,500.5 L410,501.6 L410,509.6 L407.5,508.5 Z" fill="#b0b0b0"/>
<path d="M721,550.1 L723.5,549.4 L723.5,557.6 L721,558.4 Z" fill="#b0b0b0"/>
<path d="M407.5,500.5 L598,586.5 L723.5,549.4" stroke="#1a1a1a" fill="none" stroke-linejoin="round" stroke-width="1.1"/>
<path d="M407.5,508.5 L598,594.8 L723.5,557.6 L723.5,549.4" stroke="#1a1a1a" fill="none" stroke-linejoin="round" stroke-width="1.3"/>
<path d="M407.5,500.5 L407.5,508.5" stroke="#1a1a1a" fill="none" stroke-linejoin="round" stroke-width="1.1"/>
<path d="M407.5,500.5 L552.4,439" stroke="#1a1a1a" fill="none" stroke-linejoin="round" stroke-width="1.6"/>
<path d="M652.8,446 L723.5,549.4" stroke="#1a1a1a" fill="none" stroke-linejoin="round" stroke-width="1.6"/>
<path d="M600.5,459 L598,594.8" stroke="#1a1a1a" fill="none" stroke-linejoin="round" stroke-width="1.2"/>
<path d="M552.4,237 L552.4,439 L601,459 L652.8,446 L652.8,243" stroke="#1a1a1a" fill="none" stroke-linejoin="round" stroke-width="1.6"/>
<path d="M601,258 L601,459" stroke="#1a1a1a" fill="none" stroke-linejoin="round" stroke-width="1.5"/>
<path d="M552.4,237 L605.4,221 L605.4,258" stroke="#1a1a1a" fill="none" stroke-linejoin="round" stroke-width="1.7"/>
<path d="M552.4,237 L601,258 L652.8,243" stroke="#1a1a1a" fill="none" stroke-linejoin="round" stroke-width="1.5"/>
<path d="M552.4,313.4 L601,334 L652.8,319.5" stroke="#1a1a1a" fill="none" stroke-linejoin="round" stroke-width="1.4"/>
<path d="M425,508.4 L518,477 L600,516" stroke="#1a1a1a" fill="none" stroke-linejoin="round" stroke-width="0.5" stroke-opacity="0.6"/>
<line x1="519.1" y1="222.6" x2="570.3" y2="207.1" stroke="#2a2a2a" stroke-width="0.75" fill="none"/>
<line x1="519.1" y1="222.6" x2="552.4" y2="236.8" stroke="#2a2a2a" stroke-width="0.75" fill="none"/>
<line x1="570.3" y1="207.1" x2="605.4" y2="221" stroke="#2a2a2a" stroke-width="0.75" fill="none"/>
<line x1="518" y1="247.9" x2="567.5" y2="270.4" stroke="#2a2a2a" stroke-width="0.75" fill="none"/>
<line x1="518" y1="247.9" x2="552.4" y2="236.8" stroke="#2a2a2a" stroke-width="0.75" fill="none"/>
<line x1="567.5" y1="270.4" x2="601" y2="260" stroke="#2a2a2a" stroke-width="0.75" fill="none"/>
<line x1="725" y1="275.6" x2="725" y2="479.7" stroke="#2a2a2a" stroke-width="0.75" fill="none"/>
<line x1="653.4" y1="243.5" x2="725" y2="275.6" stroke="#2a2a2a" stroke-width="0.75" fill="none"/>
<line x1="653.4" y1="319.4" x2="725" y2="351.5" stroke="#2a2a2a" stroke-width="0.75" fill="none"/>
<line x1="655" y1="447.7" x2="761.5" y2="495.8" stroke="#2a2a2a" stroke-width="0.75" fill="none"/>
<line x1="761.5" y1="495.8" x2="761.5" y2="575.5" stroke="#2a2a2a" stroke-width="0.75" fill="none"/>
<line x1="723.5" y1="557.6" x2="761.5" y2="575.5" stroke="#2a2a2a" stroke-width="0.75" fill="none"/>
<line x1="637.7" y1="615.4" x2="761.5" y2="575.5" stroke="#2a2a2a" stroke-width="0.75" fill="none"/>
<line x1="598" y1="594.8" x2="637.7" y2="615.4" stroke="#2a2a2a" stroke-width="0.75" fill="none"/>
<line x1="364.6" y1="521.5" x2="554.8" y2="608.6" stroke="#2a2a2a" stroke-width="0.75" fill="none"/>
<line x1="364.6" y1="521.5" x2="407.5" y2="508.5" stroke="#2a2a2a" stroke-width="0.75" fill="none"/>
<line x1="554.8" y1="608.6" x2="598" y2="594.8" stroke="#2a2a2a" stroke-width="0.75" fill="none"/>
<path d="M519.10,222.60 L523.51,219.91 L524.26,222.40 Z" fill="#222"/>
<path d="M570.30,207.10 L565.89,209.79 L565.14,207.30 Z" fill="#222"/>
<path d="M518.00,247.90 L523.09,248.79 L522.01,251.15 Z" fill="#222"/>
<path d="M567.50,270.40 L562.41,269.51 L563.49,267.15 Z" fill="#222"/>
<path d="M725.00,275.60 L726.30,280.60 L723.70,280.60 Z" fill="#222"/>
<path d="M725.00,351.50 L723.70,346.50 L726.30,346.50 Z" fill="#222"/>
<path d="M725.00,351.50 L726.30,356.50 L723.70,356.50 Z" fill="#222"/>
<path d="M725.00,479.70 L723.70,474.70 L726.30,474.70 Z" fill="#222"/>
<path d="M761.50,495.80 L762.80,500.80 L760.20,500.80 Z" fill="#222"/>
<path d="M761.50,575.50 L760.20,570.50 L762.80,570.50 Z" fill="#222"/>
<path d="M637.70,615.40 L642.06,612.63 L642.86,615.10 Z" fill="#222"/>
<path d="M761.50,575.50 L757.14,578.27 L756.34,575.80 Z" fill="#222"/>
<path d="M364.60,521.50 L369.69,522.40 L368.60,524.76 Z" fill="#222"/>
<path d="M554.80,608.60 L549.71,607.70 L550.80,605.34 Z" fill="#222"/>
<text x="0" y="0" transform="translate(531.8,213.6) rotate(-17)" style="font-family:&quot;Liberation Sans&quot;,sans-serif;font-weight:normal;font-size:21px" fill="#111" >8″</text>
<text x="0" y="0" transform="translate(509.6,266.6) rotate(24.4)" style="font-family:&quot;Liberation Sans&quot;,sans-serif;font-weight:normal;font-size:21px" fill="#111" >9.2″</text>
<text x="0" y="0" transform="translate(731.5,304) rotate(90)" style="font-family:&quot;Liberation Sans&quot;,sans-serif;font-weight:normal;font-size:21px" fill="#111" >16″</text>
<text x="0" y="0" transform="translate(731.5,408) rotate(90)" style="font-family:&quot;Liberation Sans&quot;,sans-serif;font-weight:normal;font-size:21px" fill="#111" >16″</text>
<text x="0" y="0" transform="translate(769,521) rotate(90)" style="font-family:&quot;Liberation Sans&quot;,sans-serif;font-weight:normal;font-size:21px" fill="#111" >10.2″</text>
<text x="0" y="0" transform="translate(708,617.5) rotate(-17.6)" style="font-family:&quot;Liberation Sans&quot;,sans-serif;font-weight:normal;font-size:21px" fill="#111" >19.7″</text>
<text x="0.0" y="0" transform="translate(357.5,545.5) rotate(24.6)" style="font-family:&quot;Liberation Sans&quot;,sans-serif;font-weight:normal;font-size:21.5px" fill="#111">30″</text>
<text x="46.8" y="0" transform="translate(357.5,545.5) rotate(24.6)" style="font-family:&quot;Liberation Sans&quot;,sans-serif;font-weight:normal;font-size:21.5px" fill="#111">36″</text>
<text x="93.6" y="0" transform="translate(357.5,545.5) rotate(24.6)" style="font-family:&quot;Liberation Sans&quot;,sans-serif;font-weight:normal;font-size:21.5px" fill="#111">42″</text>
<text x="140.4" y="0" transform="translate(357.5,545.5) rotate(24.6)" style="font-family:&quot;Liberation Sans&quot;,sans-serif;font-weight:normal;font-size:21.5px" fill="#111">48″</text>
<line x1="33.8" y1="4.5" x2="45.3" y2="-15" transform="translate(357.5,545.5) rotate(24.6)" stroke="#111" stroke-width="1.5"/>
<line x1="80.8" y1="4.5" x2="92.3" y2="-15" transform="translate(357.5,545.5) rotate(24.6)" stroke="#111" stroke-width="1.5"/>
<line x1="127.8" y1="4.5" x2="139.3" y2="-15" transform="translate(357.5,545.5) rotate(24.6)" stroke="#111" stroke-width="1.5"/>
</svg></body></html>
